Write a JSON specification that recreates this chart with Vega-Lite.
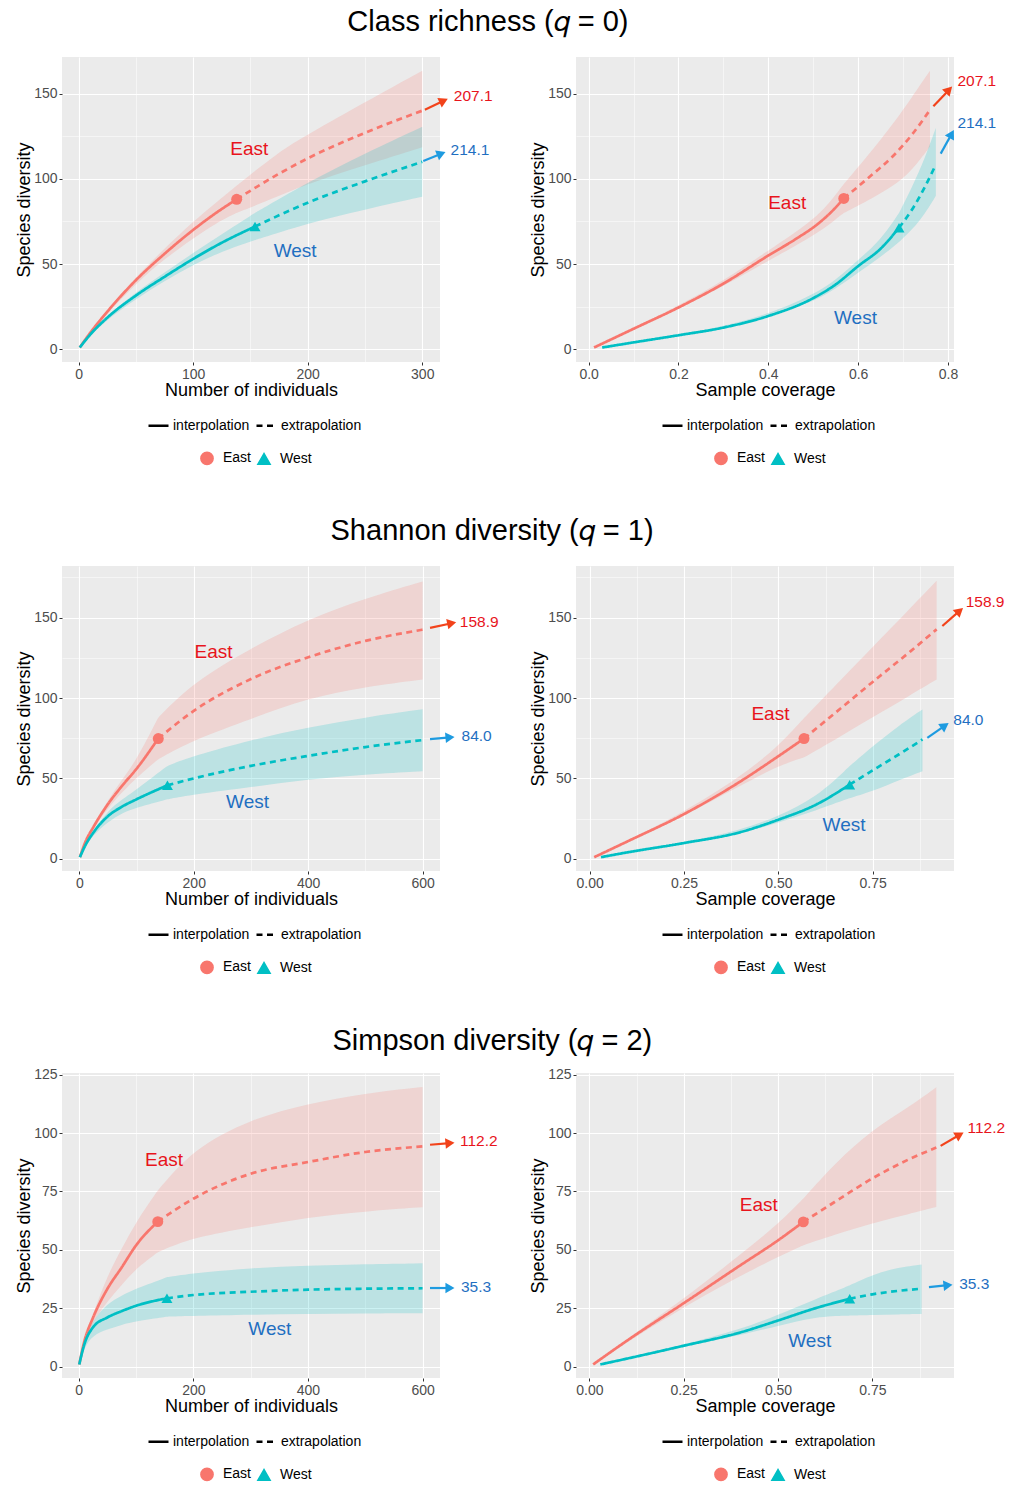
{
"$schema": "https://vega.github.io/schema/vega-lite/v6.json",
"padding": {"left": 15, "top": 8, "right": 3, "bottom": 0},
"spacing": 49,
"resolve": {"scale": {"color": "independent", "shape": "independent", "strokeDash": "independent"}, "legend": {"color": "independent", "shape": "independent", "strokeDash": "independent"}},
"datasets": {
"curves": [
{"panel":"q0s","region":"East","method":"interpolation","x":1,"y":1,"lo":1,"hi":1},
{"panel":"q0s","region":"East","method":"interpolation","x":10,"y":9.5,"lo":9,"hi":10},
{"panel":"q0s","region":"East","method":"interpolation","x":25,"y":22,"lo":21,"hi":23},
{"panel":"q0s","region":"East","method":"interpolation","x":50,"y":40.5,"lo":38.5,"hi":42.5},
{"panel":"q0s","region":"East","method":"interpolation","x":75,"y":56,"lo":53,"hi":59},
{"panel":"q0s","region":"East","method":"interpolation","x":100,"y":70,"lo":65,"hi":75},
{"panel":"q0s","region":"East","method":"interpolation","x":120,"y":80,"lo":74,"hi":86},
{"panel":"q0s","region":"East","method":"interpolation","x":138,"y":88,"lo":80,"hi":96},
{"panel":"q0s","region":"East","method":"extrapolation","x":138,"y":88,"lo":80,"hi":96},
{"panel":"q0s","region":"East","method":"extrapolation","x":175,"y":103,"lo":90,"hi":116},
{"panel":"q0s","region":"East","method":"extrapolation","x":200,"y":112,"lo":97,"hi":126},
{"panel":"q0s","region":"East","method":"extrapolation","x":250,"y":127,"lo":108,"hi":145},
{"panel":"q0s","region":"East","method":"extrapolation","x":300,"y":140,"lo":118.5,"hi":163.5},
{"panel":"q0s","region":"West","method":"interpolation","x":1,"y":1,"lo":1,"hi":1},
{"panel":"q0s","region":"West","method":"interpolation","x":10,"y":8.5,"lo":8,"hi":9},
{"panel":"q0s","region":"West","method":"interpolation","x":25,"y":18.5,"lo":17.5,"hi":19.5},
{"panel":"q0s","region":"West","method":"interpolation","x":50,"y":31.5,"lo":29.5,"hi":33.5},
{"panel":"q0s","region":"West","method":"interpolation","x":75,"y":42.5,"lo":40,"hi":45},
{"panel":"q0s","region":"West","method":"interpolation","x":100,"y":53,"lo":49.5,"hi":56.5},
{"panel":"q0s","region":"West","method":"interpolation","x":125,"y":62.5,"lo":57.5,"hi":67.5},
{"panel":"q0s","region":"West","method":"interpolation","x":154,"y":72,"lo":64,"hi":80},
{"panel":"q0s","region":"West","method":"extrapolation","x":154,"y":72,"lo":64,"hi":80},
{"panel":"q0s","region":"West","method":"extrapolation","x":200,"y":86,"lo":74,"hi":98},
{"panel":"q0s","region":"West","method":"extrapolation","x":250,"y":98.5,"lo":82,"hi":115},
{"panel":"q0s","region":"West","method":"extrapolation","x":300,"y":110,"lo":89.5,"hi":130.5},

{"panel":"q0c","region":"East","method":"interpolation","x":0.012,"y":1,"lo":1,"hi":1},
{"panel":"q0c","region":"East","method":"interpolation","x":0.1,"y":12,"lo":11.5,"hi":12.5},
{"panel":"q0c","region":"East","method":"interpolation","x":0.2,"y":24.5,"lo":23.5,"hi":25.5},
{"panel":"q0c","region":"East","method":"interpolation","x":0.3,"y":38.5,"lo":37,"hi":40},
{"panel":"q0c","region":"East","method":"interpolation","x":0.4,"y":55,"lo":52,"hi":58},
{"panel":"q0c","region":"East","method":"interpolation","x":0.46,"y":64.5,"lo":60.5,"hi":68.5},
{"panel":"q0c","region":"East","method":"interpolation","x":0.51,"y":73.5,"lo":68.5,"hi":78.5},
{"panel":"q0c","region":"East","method":"interpolation","x":0.54,"y":80.5,"lo":74,"hi":87},
{"panel":"q0c","region":"East","method":"interpolation","x":0.568,"y":88.5,"lo":80,"hi":97},
{"panel":"q0c","region":"East","method":"extrapolation","x":0.568,"y":88.5,"lo":80,"hi":97},
{"panel":"q0c","region":"East","method":"extrapolation","x":0.62,"y":100,"lo":87,"hi":113},
{"panel":"q0c","region":"East","method":"extrapolation","x":0.68,"y":114,"lo":96,"hi":133},
{"panel":"q0c","region":"East","method":"extrapolation","x":0.72,"y":126,"lo":105,"hi":148},
{"panel":"q0c","region":"East","method":"extrapolation","x":0.76,"y":140.5,"lo":119,"hi":163.5},
{"panel":"q0c","region":"West","method":"interpolation","x":0.03,"y":1,"lo":1,"hi":1},
{"panel":"q0c","region":"West","method":"interpolation","x":0.1,"y":4,"lo":3.8,"hi":4.2},
{"panel":"q0c","region":"West","method":"interpolation","x":0.2,"y":8.2,"lo":7.8,"hi":8.6},
{"panel":"q0c","region":"West","method":"interpolation","x":0.3,"y":12.7,"lo":12,"hi":13.4},
{"panel":"q0c","region":"West","method":"interpolation","x":0.4,"y":19.5,"lo":18.5,"hi":20.5},
{"panel":"q0c","region":"West","method":"interpolation","x":0.5,"y":30,"lo":28,"hi":32},
{"panel":"q0c","region":"West","method":"interpolation","x":0.55,"y":38,"lo":35.5,"hi":40.5},
{"panel":"q0c","region":"West","method":"interpolation","x":0.6,"y":48.8,"lo":45,"hi":52.5},
{"panel":"q0c","region":"West","method":"interpolation","x":0.65,"y":59,"lo":54,"hi":64},
{"panel":"q0c","region":"West","method":"interpolation","x":0.691,"y":71.3,"lo":63,"hi":80},
{"panel":"q0c","region":"West","method":"extrapolation","x":0.691,"y":71.3,"lo":63,"hi":80},
{"panel":"q0c","region":"West","method":"extrapolation","x":0.72,"y":82,"lo":70,"hi":95},
{"panel":"q0c","region":"West","method":"extrapolation","x":0.75,"y":96,"lo":80,"hi":113},
{"panel":"q0c","region":"West","method":"extrapolation","x":0.773,"y":108.4,"lo":90,"hi":130},

{"panel":"q1s","region":"East","method":"interpolation","x":1,"y":1,"lo":1,"hi":1},
{"panel":"q1s","region":"East","method":"interpolation","x":10,"y":10,"lo":9.5,"hi":10.5},
{"panel":"q1s","region":"East","method":"interpolation","x":25,"y":20,"lo":19,"hi":21.5},
{"panel":"q1s","region":"East","method":"interpolation","x":50,"y":34,"lo":31.5,"hi":36.5},
{"panel":"q1s","region":"East","method":"interpolation","x":75,"y":45.5,"lo":41.5,"hi":49.5},
{"panel":"q1s","region":"East","method":"interpolation","x":100,"y":56,"lo":50.5,"hi":61.5},
{"panel":"q1s","region":"East","method":"interpolation","x":138,"y":74.8,"lo":62,"hi":88},
{"panel":"q1s","region":"East","method":"extrapolation","x":138,"y":74.8,"lo":62,"hi":88},
{"panel":"q1s","region":"East","method":"extrapolation","x":200,"y":92,"lo":74,"hi":110},
{"panel":"q1s","region":"East","method":"extrapolation","x":300,"y":111.8,"lo":87,"hi":131},
{"panel":"q1s","region":"East","method":"extrapolation","x":400,"y":125.3,"lo":100,"hi":149},
{"panel":"q1s","region":"East","method":"extrapolation","x":500,"y":135.5,"lo":107,"hi":162},
{"panel":"q1s","region":"East","method":"extrapolation","x":600,"y":142.5,"lo":111.5,"hi":172.5},
{"panel":"q1s","region":"West","method":"interpolation","x":1,"y":1,"lo":1,"hi":1},
{"panel":"q1s","region":"West","method":"interpolation","x":10,"y":8,"lo":7.5,"hi":8.5},
{"panel":"q1s","region":"West","method":"interpolation","x":25,"y":16.5,"lo":15,"hi":18},
{"panel":"q1s","region":"West","method":"interpolation","x":50,"y":26.5,"lo":23,"hi":30},
{"panel":"q1s","region":"West","method":"interpolation","x":75,"y":32.5,"lo":28.5,"hi":37},
{"panel":"q1s","region":"West","method":"interpolation","x":100,"y":37,"lo":32,"hi":43},
{"panel":"q1s","region":"West","method":"interpolation","x":154,"y":45.7,"lo":37,"hi":57.8},
{"panel":"q1s","region":"West","method":"extrapolation","x":154,"y":45.7,"lo":37,"hi":57.8},
{"panel":"q1s","region":"West","method":"extrapolation","x":200,"y":50,"lo":40,"hi":64},
{"panel":"q1s","region":"West","method":"extrapolation","x":300,"y":57.8,"lo":44.5,"hi":74},
{"panel":"q1s","region":"West","method":"extrapolation","x":400,"y":64,"lo":49.5,"hi":81.7},
{"panel":"q1s","region":"West","method":"extrapolation","x":500,"y":69.5,"lo":52.5,"hi":88},
{"panel":"q1s","region":"West","method":"extrapolation","x":600,"y":73.8,"lo":54.5,"hi":93},

{"panel":"q1c","region":"East","method":"interpolation","x":0.012,"y":1,"lo":1,"hi":1},
{"panel":"q1c","region":"East","method":"interpolation","x":0.1,"y":10.8,"lo":10.3,"hi":11.3},
{"panel":"q1c","region":"East","method":"interpolation","x":0.25,"y":27.8,"lo":26.5,"hi":29},
{"panel":"q1c","region":"East","method":"interpolation","x":0.4,"y":48.2,"lo":45.5,"hi":51},
{"panel":"q1c","region":"East","method":"interpolation","x":0.5,"y":63.8,"lo":58,"hi":70},
{"panel":"q1c","region":"East","method":"interpolation","x":0.568,"y":74.8,"lo":63,"hi":87.5},
{"panel":"q1c","region":"East","method":"extrapolation","x":0.568,"y":74.8,"lo":63,"hi":87.5},
{"panel":"q1c","region":"East","method":"extrapolation","x":0.65,"y":90.6,"lo":74,"hi":107.6},
{"panel":"q1c","region":"East","method":"extrapolation","x":0.75,"y":110,"lo":88,"hi":131.7},
{"panel":"q1c","region":"East","method":"extrapolation","x":0.85,"y":129,"lo":101.8,"hi":156},
{"panel":"q1c","region":"East","method":"extrapolation","x":0.9195,"y":142.7,"lo":111.5,"hi":173},
{"panel":"q1c","region":"West","method":"interpolation","x":0.03,"y":1,"lo":1,"hi":1},
{"panel":"q1c","region":"West","method":"interpolation","x":0.1,"y":4,"lo":3.8,"hi":4.2},
{"panel":"q1c","region":"West","method":"interpolation","x":0.25,"y":9.8,"lo":9.3,"hi":10.3},
{"panel":"q1c","region":"West","method":"interpolation","x":0.4,"y":16.6,"lo":15.5,"hi":17.7},
{"panel":"q1c","region":"West","method":"interpolation","x":0.5,"y":24.3,"lo":22.5,"hi":26.5},
{"panel":"q1c","region":"West","method":"interpolation","x":0.6,"y":33.7,"lo":30,"hi":38},
{"panel":"q1c","region":"West","method":"interpolation","x":0.689,"y":46.1,"lo":37.8,"hi":57.6},
{"panel":"q1c","region":"West","method":"extrapolation","x":0.689,"y":46.1,"lo":37.8,"hi":57.6},
{"panel":"q1c","region":"West","method":"extrapolation","x":0.75,"y":55,"lo":42,"hi":70},
{"panel":"q1c","region":"West","method":"extrapolation","x":0.82,"y":65,"lo":49,"hi":83},
{"panel":"q1c","region":"West","method":"extrapolation","x":0.882,"y":74.2,"lo":54.4,"hi":92.9},

{"panel":"q2s","region":"East","method":"interpolation","x":1,"y":1,"lo":1,"hi":1},
{"panel":"q2s","region":"East","method":"interpolation","x":10,"y":11,"lo":10.5,"hi":11.5},
{"panel":"q2s","region":"East","method":"interpolation","x":25,"y":21,"lo":19.5,"hi":22.5},
{"panel":"q2s","region":"East","method":"interpolation","x":50,"y":33.3,"lo":28,"hi":39},
{"panel":"q2s","region":"East","method":"interpolation","x":75,"y":42.5,"lo":35,"hi":50.5},
{"panel":"q2s","region":"East","method":"interpolation","x":100,"y":51.9,"lo":42,"hi":62},
{"panel":"q2s","region":"East","method":"interpolation","x":138,"y":62.1,"lo":49,"hi":75.4},
{"panel":"q2s","region":"East","method":"extrapolation","x":138,"y":62.1,"lo":49,"hi":75.4},
{"panel":"q2s","region":"East","method":"extrapolation","x":200,"y":71.9,"lo":55.4,"hi":93.3},
{"panel":"q2s","region":"East","method":"extrapolation","x":300,"y":82.6,"lo":59.7,"hi":106},
{"panel":"q2s","region":"East","method":"extrapolation","x":400,"y":87.6,"lo":64,"hi":112.6},
{"panel":"q2s","region":"East","method":"extrapolation","x":500,"y":91.9,"lo":66.5,"hi":117},
{"panel":"q2s","region":"East","method":"extrapolation","x":600,"y":94.3,"lo":68.3,"hi":119.7},
{"panel":"q2s","region":"West","method":"interpolation","x":1,"y":1,"lo":1,"hi":1},
{"panel":"q2s","region":"West","method":"interpolation","x":10,"y":9.7,"lo":8.5,"hi":11},
{"panel":"q2s","region":"West","method":"interpolation","x":25,"y":16.9,"lo":13.5,"hi":20},
{"panel":"q2s","region":"West","method":"interpolation","x":50,"y":21.1,"lo":16,"hi":27},
{"panel":"q2s","region":"West","method":"interpolation","x":75,"y":23.8,"lo":18,"hi":30.5},
{"panel":"q2s","region":"West","method":"interpolation","x":100,"y":26.1,"lo":19.5,"hi":33.5},
{"panel":"q2s","region":"West","method":"interpolation","x":154,"y":29.3,"lo":21.4,"hi":38.3},
{"panel":"q2s","region":"West","method":"extrapolation","x":154,"y":29.3,"lo":21.4,"hi":38.3},
{"panel":"q2s","region":"West","method":"extrapolation","x":200,"y":30.7,"lo":21.8,"hi":40},
{"panel":"q2s","region":"West","method":"extrapolation","x":300,"y":32.1,"lo":22.3,"hi":42.3},
{"panel":"q2s","region":"West","method":"extrapolation","x":400,"y":33,"lo":22.6,"hi":43.3},
{"panel":"q2s","region":"West","method":"extrapolation","x":500,"y":33.4,"lo":22.8,"hi":43.9},
{"panel":"q2s","region":"West","method":"extrapolation","x":600,"y":33.6,"lo":22.9,"hi":44.3},

{"panel":"q2c","region":"East","method":"interpolation","x":0.01,"y":1,"lo":1,"hi":1},
{"panel":"q2c","region":"East","method":"interpolation","x":0.1,"y":11.2,"lo":10.5,"hi":12},
{"panel":"q2c","region":"East","method":"interpolation","x":0.25,"y":27.2,"lo":25.5,"hi":29},
{"panel":"q2c","region":"East","method":"interpolation","x":0.4,"y":43.4,"lo":39,"hi":48},
{"panel":"q2c","region":"East","method":"interpolation","x":0.5,"y":54.1,"lo":47,"hi":61},
{"panel":"q2c","region":"East","method":"interpolation","x":0.567,"y":62,"lo":52,"hi":72},
{"panel":"q2c","region":"East","method":"extrapolation","x":0.567,"y":62,"lo":52,"hi":72},
{"panel":"q2c","region":"East","method":"extrapolation","x":0.65,"y":70.5,"lo":56.5,"hi":87},
{"panel":"q2c","region":"East","method":"extrapolation","x":0.75,"y":80.6,"lo":61.5,"hi":101.5},
{"panel":"q2c","region":"East","method":"extrapolation","x":0.85,"y":89,"lo":65.5,"hi":111.5},
{"panel":"q2c","region":"East","method":"extrapolation","x":0.9195,"y":93.8,"lo":68.4,"hi":119.6},
{"panel":"q2c","region":"West","method":"interpolation","x":0.029,"y":1,"lo":1,"hi":1},
{"panel":"q2c","region":"West","method":"interpolation","x":0.1,"y":3.5,"lo":3.3,"hi":3.7},
{"panel":"q2c","region":"West","method":"interpolation","x":0.25,"y":9,"lo":8.5,"hi":9.5},
{"panel":"q2c","region":"West","method":"interpolation","x":0.4,"y":14.7,"lo":13.5,"hi":16},
{"panel":"q2c","region":"West","method":"interpolation","x":0.5,"y":19.8,"lo":17.5,"hi":22.2},
{"panel":"q2c","region":"West","method":"interpolation","x":0.6,"y":25.1,"lo":21.5,"hi":29},
{"panel":"q2c","region":"West","method":"interpolation","x":0.69,"y":29.1,"lo":21.9,"hi":34.8},
{"panel":"q2c","region":"West","method":"extrapolation","x":0.69,"y":29.1,"lo":21.9,"hi":34.8},
{"panel":"q2c","region":"West","method":"extrapolation","x":0.75,"y":31,"lo":22.2,"hi":39.5},
{"panel":"q2c","region":"West","method":"extrapolation","x":0.82,"y":32.5,"lo":22.4,"hi":42.5},
{"panel":"q2c","region":"West","method":"extrapolation","x":0.8806,"y":33.4,"lo":22.6,"hi":43.8}
],
"obs": [
{"panel":"q0s","region":"East","x":138,"y":88},
{"panel":"q0s","region":"West","x":154,"y":72},
{"panel":"q0c","region":"East","x":0.568,"y":88.5},
{"panel":"q0c","region":"West","x":0.691,"y":71.3},
{"panel":"q1s","region":"East","x":138,"y":74.8},
{"panel":"q1s","region":"West","x":154,"y":45.7},
{"panel":"q1c","region":"East","x":0.568,"y":74.8},
{"panel":"q1c","region":"West","x":0.689,"y":46.1},
{"panel":"q2s","region":"East","x":138,"y":62.1},
{"panel":"q2s","region":"West","x":154,"y":29.3},
{"panel":"q2c","region":"East","x":0.567,"y":62},
{"panel":"q2c","region":"West","x":0.69,"y":29.1}
],
"arrows": [
{"panel":"q0s","region":"East","x":302.3,"y":140.6,"x2":318.7,"y2":145.8,"label":"207.1","lx":327.6,"ly":148.4},
{"panel":"q0s","region":"West","x":300.9,"y":110.5,"x2":316.6,"y2":114.7,"label":"214.1","lx":324.7,"ly":116.8},
{"panel":"q0c","region":"East","x":0.7675,"y":142.6,"x2":0.8022,"y2":152.2,"label":"207.1","lx":0.821,"ly":157.2},
{"panel":"q0c","region":"West","x":0.7838,"y":114.8,"x2":0.8081,"y2":126.3,"label":"214.1","lx":0.821,"ly":132.8},
{"panel":"q1s","region":"East","x":613,"y":143.6,"x2":650.9,"y2":146.5,"label":"158.9","lx":665,"ly":147.5},
{"panel":"q1s","region":"West","x":613,"y":74.4,"x2":647.9,"y2":75.5,"label":"84.0","lx":668,"ly":76.5},
{"panel":"q1c","region":"East","x":0.9346,"y":144.8,"x2":0.9803,"y2":154.2,"label":"158.9","lx":0.9965,"ly":159.8},
{"panel":"q1c","region":"West","x":0.8948,"y":75.2,"x2":0.9414,"y2":82.8,"label":"84.0","lx":0.9637,"ly":86.2},
{"panel":"q2s","region":"East","x":613,"y":95,"x2":647.8,"y2":95.7,"label":"112.2","lx":665.3,"ly":96.6},
{"panel":"q2s","region":"West","x":613,"y":33.7,"x2":647.8,"y2":33.7,"label":"35.3","lx":667,"ly":34},
{"panel":"q2c","region":"East","x":0.931,"y":94.5,"x2":0.9814,"y2":99.3,"label":"112.2","lx":1.002,"ly":102},
{"panel":"q2c","region":"West","x":0.9,"y":34.1,"x2":0.9505,"y2":34.9,"label":"35.3","lx":0.98,"ly":35.4}
],
"labels": [
{"panel":"q0s","region":"East","x":149,"y":117.7},
{"panel":"q0s","region":"West","x":189,"y":57.5},
{"panel":"q0c","region":"East","x":0.442,"y":86},
{"panel":"q0c","region":"West","x":0.594,"y":18.6},
{"panel":"q1s","region":"East","x":234.6,"y":128.8},
{"panel":"q1s","region":"West","x":294,"y":35.3},
{"panel":"q1c","region":"East","x":0.479,"y":89.8},
{"panel":"q1c","region":"West","x":0.674,"y":21.2},
{"panel":"q2s","region":"East","x":149,"y":88.6},
{"panel":"q2s","region":"West","x":333.5,"y":16.1},
{"panel":"q2c","region":"East","x":0.449,"y":69.2},
{"panel":"q2c","region":"West","x":0.584,"y":11.2}
]
},
"vconcat": [
{
"bounds": "flush", "spacing": 136,
"title": {"text": "Class richness (𝑞 = 0)", "fontSize": 29, "fontWeight": "normal", "anchor": "middle", "offset": 20, "dx": -18, "color": "#000000"},
"resolve": {"scale": {"color": "independent", "shape": "independent", "strokeDash": "independent"}, "legend": {"color": "independent", "shape": "independent", "strokeDash": "independent"}},
"hconcat": [
{
"width": 378, "height": 305,
"layer": [
{"data": {"name": "curves"}, "transform": [{"filter": "datum.panel === 'q0s'"}],
 "mark": {"type": "area", "opacity": 0.2, "interpolate": "basis"},
 "encoding": {
  "x": {"field": "x", "type": "quantitative", "scale": {"domain": [-14.5, 315.5], "nice": false, "zero": false},
   "axis": {"title": "Number of individuals", "titlePadding": 0, "values": [0,50,100,150,200,250,300], "format": "d",
    "labelExpr": "datum.value % 100 === 0 ? datum.label : ''",
    "gridWidth": {"condition": {"test": "datum.value % 100 === 0", "value": 1.1}, "value": 0.5},
    "tickOpacity": {"condition": {"test": "datum.value % 100 === 0", "value": 1}, "value": 0}}},
  "y": {"field": "lo", "type": "quantitative", "scale": {"domain": [-7.5, 171.5], "nice": false, "zero": false},
   "axis": {"title": "Species diversity", "titlePadding": 0, "values": [0,25,50,75,100,125,150], "format": "d",
    "labelExpr": "datum.value % 50 === 0 ? datum.label : ''",
    "gridWidth": {"condition": {"test": "datum.value % 50 === 0", "value": 1.1}, "value": 0.5},
    "tickOpacity": {"condition": {"test": "datum.value % 50 === 0", "value": 1}, "value": 0}}},
  "y2": {"field": "hi"},
  "color": {"field": "region", "type": "nominal", "scale": {"domain": ["East","West"], "range": ["#F8766D","#00BFC4"]}, "legend": {"orient": "none", "legendX": 138, "legendY": 394, "direction": "horizontal", "title": null, "symbolSize": 150, "symbolOpacity": 1, "labelOffset": 9, "columnPadding": 2, "labelFontSize": 14}}
 }},
{"data": {"name": "curves"}, "transform": [{"filter": "datum.panel === 'q0s'"}],
 "mark": {"type": "line", "strokeWidth": 2.7, "interpolate": "monotone"},
 "encoding": {
  "x": {"field": "x", "type": "quantitative"},
  "y": {"field": "y", "type": "quantitative"},
  "color": {"field": "region", "type": "nominal", "legend": {"orient": "none", "legendX": 138, "legendY": 394, "direction": "horizontal", "title": null, "symbolSize": 150, "symbolOpacity": 1, "labelOffset": 9, "columnPadding": 2, "labelFontSize": 14}},
  "strokeDash": {"field": "method", "type": "nominal", "scale": {"domain": ["interpolation","extrapolation"], "range": [[1,0],[6,4.5]]},
   "legend": {"orient": "none", "legendX": 85, "legendY": 357, "direction": "horizontal", "title": null, "symbolType": "stroke", "symbolStrokeColor": "#000000", "symbolStrokeWidth": 2.5, "symbolSize": 400, "labelOffset": 3, "columnPadding": 1, "labelFontSize": 14}}
 }},
{"data": {"name": "obs"}, "transform": [{"filter": "datum.panel === 'q0s'"}],
 "mark": {"type": "point", "filled": true, "size": 120, "opacity": 1},
 "encoding": {
  "x": {"field": "x", "type": "quantitative"},
  "y": {"field": "y", "type": "quantitative"},
  "color": {"field": "region", "type": "nominal", "legend": {"orient": "none", "legendX": 138, "legendY": 394, "direction": "horizontal", "title": null, "symbolSize": 150, "symbolOpacity": 1, "labelOffset": 9, "columnPadding": 2, "labelFontSize": 14}},
  "shape": {"field": "region", "type": "nominal", "scale": {"domain": ["East","West"], "range": ["circle","triangle-up"]}, "legend": {"orient": "none", "legendX": 138, "legendY": 394, "direction": "horizontal", "title": null, "symbolSize": 150, "symbolOpacity": 1, "labelOffset": 9, "columnPadding": 2, "labelFontSize": 14}}
 }},
{"data": {"name": "arrows"}, "transform": [{"filter": "datum.panel === 'q0s'"}],
 "mark": {"type": "rule", "strokeWidth": 2.2},
 "encoding": {
  "x": {"field": "x", "type": "quantitative"}, "y": {"field": "y", "type": "quantitative"},
  "x2": {"field": "x2"}, "y2": {"field": "y2"},
  "color": {"condition": {"test": "datum.region === 'East'", "value": "#F2431B"}, "value": "#1E9BE0"}
 }},
{"data": {"name": "arrows"}, "transform": [{"filter": "datum.panel === 'q0s'"}],
 "mark": {"type": "point", "shape": "triangle-right", "filled": true, "size": 110, "opacity": 1},
 "encoding": {
  "x": {"field": "x2", "type": "quantitative"}, "y": {"field": "y2", "type": "quantitative"},
  "angle": {"condition": {"test": "datum.region === 'East'", "value": 335}, "value": 338},
  "color": {"condition": {"test": "datum.region === 'East'", "value": "#F2431B"}, "value": "#1E9BE0"}
 }},
{"data": {"name": "arrows"}, "transform": [{"filter": "datum.panel === 'q0s'"}],
 "mark": {"type": "text", "align": "left", "baseline": "middle", "fontSize": 15.5},
 "encoding": {
  "x": {"field": "lx", "type": "quantitative"}, "y": {"field": "ly", "type": "quantitative"},
  "text": {"field": "label"},
  "color": {"condition": {"test": "datum.region === 'East'", "value": "#E8141C"}, "value": "#1F6FC1"}
 }},
{"data": {"name": "labels"}, "transform": [{"filter": "datum.panel === 'q0s'"}],
 "mark": {"type": "text", "align": "center", "baseline": "middle", "fontSize": 19},
 "encoding": {
  "x": {"field": "x", "type": "quantitative"}, "y": {"field": "y", "type": "quantitative"},
  "text": {"field": "region"},
  "color": {"condition": {"test": "datum.region === 'East'", "value": "#E8141C"}, "value": "#1F6FC1"}
 }}
]
},
{
"width": 378, "height": 305,
"layer": [
{"data": {"name": "curves"}, "transform": [{"filter": "datum.panel === 'q0c'"}],
 "mark": {"type": "area", "opacity": 0.2, "interpolate": "basis"},
 "encoding": {
  "x": {"field": "x", "type": "quantitative", "scale": {"domain": [-0.0282, 0.8134], "nice": false, "zero": false},
   "axis": {"title": "Sample coverage", "titlePadding": 0, "values": [0,0.1,0.2,0.3,0.4,0.5,0.6,0.7,0.8], "format": ".1f",
    "labelExpr": "((datum.value * 10) % 2 < 0.01 || (datum.value * 10) % 2 > 1.99) ? datum.label : ''",
    "gridWidth": {"condition": {"test": "(datum.value * 10) % 2 < 0.01 || (datum.value * 10) % 2 > 1.99", "value": 1.1}, "value": 0.5},
    "tickOpacity": {"condition": {"test": "(datum.value * 10) % 2 < 0.01 || (datum.value * 10) % 2 > 1.99", "value": 1}, "value": 0}}},
  "y": {"field": "lo", "type": "quantitative", "scale": {"domain": [-7.5, 171.5], "nice": false, "zero": false},
   "axis": {"title": "Species diversity", "titlePadding": 0, "values": [0,25,50,75,100,125,150], "format": "d",
    "labelExpr": "datum.value % 50 === 0 ? datum.label : ''",
    "gridWidth": {"condition": {"test": "datum.value % 50 === 0", "value": 1.1}, "value": 0.5},
    "tickOpacity": {"condition": {"test": "datum.value % 50 === 0", "value": 1}, "value": 0}}},
  "y2": {"field": "hi"},
  "color": {"field": "region", "type": "nominal", "scale": {"domain": ["East","West"], "range": ["#F8766D","#00BFC4"]}, "legend": {"orient": "none", "legendX": 138, "legendY": 394, "direction": "horizontal", "title": null, "symbolSize": 150, "symbolOpacity": 1, "labelOffset": 9, "columnPadding": 2, "labelFontSize": 14}}
 }},
{"data": {"name": "curves"}, "transform": [{"filter": "datum.panel === 'q0c'"}],
 "mark": {"type": "line", "strokeWidth": 2.7, "interpolate": "monotone"},
 "encoding": {
  "x": {"field": "x", "type": "quantitative"},
  "y": {"field": "y", "type": "quantitative"},
  "color": {"field": "region", "type": "nominal", "legend": {"orient": "none", "legendX": 138, "legendY": 394, "direction": "horizontal", "title": null, "symbolSize": 150, "symbolOpacity": 1, "labelOffset": 9, "columnPadding": 2, "labelFontSize": 14}},
  "strokeDash": {"field": "method", "type": "nominal", "scale": {"domain": ["interpolation","extrapolation"], "range": [[1,0],[6,4.5]]},
   "legend": {"orient": "none", "legendX": 85, "legendY": 357, "direction": "horizontal", "title": null, "symbolType": "stroke", "symbolStrokeColor": "#000000", "symbolStrokeWidth": 2.5, "symbolSize": 400, "labelOffset": 3, "columnPadding": 1, "labelFontSize": 14}}
 }},
{"data": {"name": "obs"}, "transform": [{"filter": "datum.panel === 'q0c'"}],
 "mark": {"type": "point", "filled": true, "size": 120, "opacity": 1},
 "encoding": {
  "x": {"field": "x", "type": "quantitative"},
  "y": {"field": "y", "type": "quantitative"},
  "color": {"field": "region", "type": "nominal", "legend": {"orient": "none", "legendX": 138, "legendY": 394, "direction": "horizontal", "title": null, "symbolSize": 150, "symbolOpacity": 1, "labelOffset": 9, "columnPadding": 2, "labelFontSize": 14}},
  "shape": {"field": "region", "type": "nominal", "scale": {"domain": ["East","West"], "range": ["circle","triangle-up"]}, "legend": {"orient": "none", "legendX": 138, "legendY": 394, "direction": "horizontal", "title": null, "symbolSize": 150, "symbolOpacity": 1, "labelOffset": 9, "columnPadding": 2, "labelFontSize": 14}}
 }},
{"data": {"name": "arrows"}, "transform": [{"filter": "datum.panel === 'q0c'"}],
 "mark": {"type": "rule", "strokeWidth": 2.2},
 "encoding": {
  "x": {"field": "x", "type": "quantitative"}, "y": {"field": "y", "type": "quantitative"},
  "x2": {"field": "x2"}, "y2": {"field": "y2"},
  "color": {"condition": {"test": "datum.region === 'East'", "value": "#F2431B"}, "value": "#1E9BE0"}
 }},
{"data": {"name": "arrows"}, "transform": [{"filter": "datum.panel === 'q0c'"}],
 "mark": {"type": "point", "shape": "triangle-right", "filled": true, "size": 110, "opacity": 1},
 "encoding": {
  "x": {"field": "x2", "type": "quantitative"}, "y": {"field": "y2", "type": "quantitative"},
  "angle": {"condition": {"test": "datum.region === 'East'", "value": 314}, "value": 299},
  "color": {"condition": {"test": "datum.region === 'East'", "value": "#F2431B"}, "value": "#1E9BE0"}
 }},
{"data": {"name": "arrows"}, "transform": [{"filter": "datum.panel === 'q0c'"}],
 "mark": {"type": "text", "align": "left", "baseline": "middle", "fontSize": 15.5},
 "encoding": {
  "x": {"field": "lx", "type": "quantitative"}, "y": {"field": "ly", "type": "quantitative"},
  "text": {"field": "label"},
  "color": {"condition": {"test": "datum.region === 'East'", "value": "#E8141C"}, "value": "#1F6FC1"}
 }},
{"data": {"name": "labels"}, "transform": [{"filter": "datum.panel === 'q0c'"}],
 "mark": {"type": "text", "align": "center", "baseline": "middle", "fontSize": 19},
 "encoding": {
  "x": {"field": "x", "type": "quantitative"}, "y": {"field": "y", "type": "quantitative"},
  "text": {"field": "region"},
  "color": {"condition": {"test": "datum.region === 'East'", "value": "#E8141C"}, "value": "#1F6FC1"}
 }}
]
}
]
},
{
"bounds": "flush", "spacing": 136,
"title": {"text": "Shannon diversity (𝑞 = 1)", "fontSize": 29, "fontWeight": "normal", "anchor": "middle", "offset": 20, "dx": -18, "color": "#000000"},
"resolve": {"scale": {"color": "independent", "shape": "independent", "strokeDash": "independent"}, "legend": {"color": "independent", "shape": "independent", "strokeDash": "independent"}},
"hconcat": [
{
"width": 378, "height": 305,
"layer": [
{"data": {"name": "curves"}, "transform": [{"filter": "datum.panel === 'q1s'"}],
 "mark": {"type": "area", "opacity": 0.2, "interpolate": "basis"},
 "encoding": {
  "x": {"field": "x", "type": "quantitative", "scale": {"domain": [-30.3, 630.4], "nice": false, "zero": false},
   "axis": {"title": "Number of individuals", "titlePadding": 0, "values": [0,100,200,300,400,500,600], "format": "d",
    "labelExpr": "datum.value % 200 === 0 ? datum.label : ''",
    "gridWidth": {"condition": {"test": "datum.value % 200 === 0", "value": 1.1}, "value": 0.5},
    "tickOpacity": {"condition": {"test": "datum.value % 200 === 0", "value": 1}, "value": 0}}},
  "y": {"field": "lo", "type": "quantitative", "scale": {"domain": [-7.6, 182.1], "nice": false, "zero": false},
   "axis": {"title": "Species diversity", "titlePadding": 0, "values": [0,25,50,75,100,125,150,175], "format": "d",
    "labelExpr": "datum.value % 50 === 0 ? datum.label : ''",
    "gridWidth": {"condition": {"test": "datum.value % 50 === 0", "value": 1.1}, "value": 0.5},
    "tickOpacity": {"condition": {"test": "datum.value % 50 === 0", "value": 1}, "value": 0}}},
  "y2": {"field": "hi"},
  "color": {"field": "region", "type": "nominal", "scale": {"domain": ["East","West"], "range": ["#F8766D","#00BFC4"]}, "legend": {"orient": "none", "legendX": 138, "legendY": 394, "direction": "horizontal", "title": null, "symbolSize": 150, "symbolOpacity": 1, "labelOffset": 9, "columnPadding": 2, "labelFontSize": 14}}
 }},
{"data": {"name": "curves"}, "transform": [{"filter": "datum.panel === 'q1s'"}],
 "mark": {"type": "line", "strokeWidth": 2.7, "interpolate": "monotone"},
 "encoding": {
  "x": {"field": "x", "type": "quantitative"},
  "y": {"field": "y", "type": "quantitative"},
  "color": {"field": "region", "type": "nominal", "legend": {"orient": "none", "legendX": 138, "legendY": 394, "direction": "horizontal", "title": null, "symbolSize": 150, "symbolOpacity": 1, "labelOffset": 9, "columnPadding": 2, "labelFontSize": 14}},
  "strokeDash": {"field": "method", "type": "nominal", "scale": {"domain": ["interpolation","extrapolation"], "range": [[1,0],[6,4.5]]},
   "legend": {"orient": "none", "legendX": 85, "legendY": 357, "direction": "horizontal", "title": null, "symbolType": "stroke", "symbolStrokeColor": "#000000", "symbolStrokeWidth": 2.5, "symbolSize": 400, "labelOffset": 3, "columnPadding": 1, "labelFontSize": 14}}
 }},
{"data": {"name": "obs"}, "transform": [{"filter": "datum.panel === 'q1s'"}],
 "mark": {"type": "point", "filled": true, "size": 120, "opacity": 1},
 "encoding": {
  "x": {"field": "x", "type": "quantitative"},
  "y": {"field": "y", "type": "quantitative"},
  "color": {"field": "region", "type": "nominal", "legend": {"orient": "none", "legendX": 138, "legendY": 394, "direction": "horizontal", "title": null, "symbolSize": 150, "symbolOpacity": 1, "labelOffset": 9, "columnPadding": 2, "labelFontSize": 14}},
  "shape": {"field": "region", "type": "nominal", "scale": {"domain": ["East","West"], "range": ["circle","triangle-up"]}, "legend": {"orient": "none", "legendX": 138, "legendY": 394, "direction": "horizontal", "title": null, "symbolSize": 150, "symbolOpacity": 1, "labelOffset": 9, "columnPadding": 2, "labelFontSize": 14}}
 }},
{"data": {"name": "arrows"}, "transform": [{"filter": "datum.panel === 'q1s'"}],
 "mark": {"type": "rule", "strokeWidth": 2.2},
 "encoding": {
  "x": {"field": "x", "type": "quantitative"}, "y": {"field": "y", "type": "quantitative"},
  "x2": {"field": "x2"}, "y2": {"field": "y2"},
  "color": {"condition": {"test": "datum.region === 'East'", "value": "#F2431B"}, "value": "#1E9BE0"}
 }},
{"data": {"name": "arrows"}, "transform": [{"filter": "datum.panel === 'q1s'"}],
 "mark": {"type": "point", "shape": "triangle-right", "filled": true, "size": 110, "opacity": 1},
 "encoding": {
  "x": {"field": "x2", "type": "quantitative"}, "y": {"field": "y2", "type": "quantitative"},
  "angle": {"condition": {"test": "datum.region === 'East'", "value": 348}, "value": 355},
  "color": {"condition": {"test": "datum.region === 'East'", "value": "#F2431B"}, "value": "#1E9BE0"}
 }},
{"data": {"name": "arrows"}, "transform": [{"filter": "datum.panel === 'q1s'"}],
 "mark": {"type": "text", "align": "left", "baseline": "middle", "fontSize": 15.5},
 "encoding": {
  "x": {"field": "lx", "type": "quantitative"}, "y": {"field": "ly", "type": "quantitative"},
  "text": {"field": "label"},
  "color": {"condition": {"test": "datum.region === 'East'", "value": "#E8141C"}, "value": "#1F6FC1"}
 }},
{"data": {"name": "labels"}, "transform": [{"filter": "datum.panel === 'q1s'"}],
 "mark": {"type": "text", "align": "center", "baseline": "middle", "fontSize": 19},
 "encoding": {
  "x": {"field": "x", "type": "quantitative"}, "y": {"field": "y", "type": "quantitative"},
  "text": {"field": "region"},
  "color": {"condition": {"test": "datum.region === 'East'", "value": "#E8141C"}, "value": "#1F6FC1"}
 }}
]
},
{
"width": 378, "height": 305,
"layer": [
{"data": {"name": "curves"}, "transform": [{"filter": "datum.panel === 'q1c'"}],
 "mark": {"type": "area", "opacity": 0.2, "interpolate": "basis"},
 "encoding": {
  "x": {"field": "x", "type": "quantitative", "scale": {"domain": [-0.0363, 0.9655], "nice": false, "zero": false},
   "axis": {"title": "Sample coverage", "titlePadding": 0, "values": [0,0.125,0.25,0.375,0.5,0.625,0.75,0.875], "format": ".2f",
    "labelExpr": "(datum.value * 8) % 2 === 0 ? datum.label : ''",
    "gridWidth": {"condition": {"test": "(datum.value * 8) % 2 === 0", "value": 1.1}, "value": 0.5},
    "tickOpacity": {"condition": {"test": "(datum.value * 8) % 2 === 0", "value": 1}, "value": 0}}},
  "y": {"field": "lo", "type": "quantitative", "scale": {"domain": [-7.6, 182.1], "nice": false, "zero": false},
   "axis": {"title": "Species diversity", "titlePadding": 0, "values": [0,25,50,75,100,125,150,175], "format": "d",
    "labelExpr": "datum.value % 50 === 0 ? datum.label : ''",
    "gridWidth": {"condition": {"test": "datum.value % 50 === 0", "value": 1.1}, "value": 0.5},
    "tickOpacity": {"condition": {"test": "datum.value % 50 === 0", "value": 1}, "value": 0}}},
  "y2": {"field": "hi"},
  "color": {"field": "region", "type": "nominal", "scale": {"domain": ["East","West"], "range": ["#F8766D","#00BFC4"]}, "legend": {"orient": "none", "legendX": 138, "legendY": 394, "direction": "horizontal", "title": null, "symbolSize": 150, "symbolOpacity": 1, "labelOffset": 9, "columnPadding": 2, "labelFontSize": 14}}
 }},
{"data": {"name": "curves"}, "transform": [{"filter": "datum.panel === 'q1c'"}],
 "mark": {"type": "line", "strokeWidth": 2.7, "interpolate": "monotone"},
 "encoding": {
  "x": {"field": "x", "type": "quantitative"},
  "y": {"field": "y", "type": "quantitative"},
  "color": {"field": "region", "type": "nominal", "legend": {"orient": "none", "legendX": 138, "legendY": 394, "direction": "horizontal", "title": null, "symbolSize": 150, "symbolOpacity": 1, "labelOffset": 9, "columnPadding": 2, "labelFontSize": 14}},
  "strokeDash": {"field": "method", "type": "nominal", "scale": {"domain": ["interpolation","extrapolation"], "range": [[1,0],[6,4.5]]},
   "legend": {"orient": "none", "legendX": 85, "legendY": 357, "direction": "horizontal", "title": null, "symbolType": "stroke", "symbolStrokeColor": "#000000", "symbolStrokeWidth": 2.5, "symbolSize": 400, "labelOffset": 3, "columnPadding": 1, "labelFontSize": 14}}
 }},
{"data": {"name": "obs"}, "transform": [{"filter": "datum.panel === 'q1c'"}],
 "mark": {"type": "point", "filled": true, "size": 120, "opacity": 1},
 "encoding": {
  "x": {"field": "x", "type": "quantitative"},
  "y": {"field": "y", "type": "quantitative"},
  "color": {"field": "region", "type": "nominal", "legend": {"orient": "none", "legendX": 138, "legendY": 394, "direction": "horizontal", "title": null, "symbolSize": 150, "symbolOpacity": 1, "labelOffset": 9, "columnPadding": 2, "labelFontSize": 14}},
  "shape": {"field": "region", "type": "nominal", "scale": {"domain": ["East","West"], "range": ["circle","triangle-up"]}, "legend": {"orient": "none", "legendX": 138, "legendY": 394, "direction": "horizontal", "title": null, "symbolSize": 150, "symbolOpacity": 1, "labelOffset": 9, "columnPadding": 2, "labelFontSize": 14}}
 }},
{"data": {"name": "arrows"}, "transform": [{"filter": "datum.panel === 'q1c'"}],
 "mark": {"type": "rule", "strokeWidth": 2.2},
 "encoding": {
  "x": {"field": "x", "type": "quantitative"}, "y": {"field": "y", "type": "quantitative"},
  "x2": {"field": "x2"}, "y2": {"field": "y2"},
  "color": {"condition": {"test": "datum.region === 'East'", "value": "#F2431B"}, "value": "#1E9BE0"}
 }},
{"data": {"name": "arrows"}, "transform": [{"filter": "datum.panel === 'q1c'"}],
 "mark": {"type": "point", "shape": "triangle-right", "filled": true, "size": 110, "opacity": 1},
 "encoding": {
  "x": {"field": "x2", "type": "quantitative"}, "y": {"field": "y2", "type": "quantitative"},
  "angle": {"condition": {"test": "datum.region === 'East'", "value": 319}, "value": 325},
  "color": {"condition": {"test": "datum.region === 'East'", "value": "#F2431B"}, "value": "#1E9BE0"}
 }},
{"data": {"name": "arrows"}, "transform": [{"filter": "datum.panel === 'q1c'"}],
 "mark": {"type": "text", "align": "left", "baseline": "middle", "fontSize": 15.5},
 "encoding": {
  "x": {"field": "lx", "type": "quantitative"}, "y": {"field": "ly", "type": "quantitative"},
  "text": {"field": "label"},
  "color": {"condition": {"test": "datum.region === 'East'", "value": "#E8141C"}, "value": "#1F6FC1"}
 }},
{"data": {"name": "labels"}, "transform": [{"filter": "datum.panel === 'q1c'"}],
 "mark": {"type": "text", "align": "center", "baseline": "middle", "fontSize": 19},
 "encoding": {
  "x": {"field": "x", "type": "quantitative"}, "y": {"field": "y", "type": "quantitative"},
  "text": {"field": "region"},
  "color": {"condition": {"test": "datum.region === 'East'", "value": "#E8141C"}, "value": "#1F6FC1"}
 }}
]
}
]
},
{
"bounds": "flush", "spacing": 136,
"title": {"text": "Simpson diversity (𝑞 = 2)", "fontSize": 29, "fontWeight": "normal", "anchor": "middle", "offset": 12, "dx": -18, "color": "#000000"},
"resolve": {"scale": {"color": "independent", "shape": "independent", "strokeDash": "independent"}, "legend": {"color": "independent", "shape": "independent", "strokeDash": "independent"}},
"hconcat": [
{
"width": 378, "height": 305,
"layer": [
{"data": {"name": "curves"}, "transform": [{"filter": "datum.panel === 'q2s'"}],
 "mark": {"type": "area", "opacity": 0.2, "interpolate": "basis"},
 "encoding": {
  "x": {"field": "x", "type": "quantitative", "scale": {"domain": [-29.1, 630.4], "nice": false, "zero": false},
   "axis": {"title": "Number of individuals", "titlePadding": 0, "values": [0,100,200,300,400,500,600], "format": "d",
    "labelExpr": "datum.value % 200 === 0 ? datum.label : ''",
    "gridWidth": {"condition": {"test": "datum.value % 200 === 0", "value": 1.1}, "value": 0.5},
    "tickOpacity": {"condition": {"test": "datum.value % 200 === 0", "value": 1}, "value": 0}}},
  "y": {"field": "lo", "type": "quantitative", "scale": {"domain": [-4.8, 125.7], "nice": false, "zero": false},
   "axis": {"title": "Species diversity", "titlePadding": 0, "values": [0,12.5,25,37.5,50,62.5,75,87.5,100,112.5,125],
    "labelExpr": "datum.value % 25 === 0 ? datum.label : ''",
    "gridWidth": {"condition": {"test": "datum.value % 25 === 0", "value": 1.1}, "value": 0.5},
    "tickOpacity": {"condition": {"test": "datum.value % 25 === 0", "value": 1}, "value": 0}}},
  "y2": {"field": "hi"},
  "color": {"field": "region", "type": "nominal", "scale": {"domain": ["East","West"], "range": ["#F8766D","#00BFC4"]}, "legend": {"orient": "none", "legendX": 138, "legendY": 394, "direction": "horizontal", "title": null, "symbolSize": 150, "symbolOpacity": 1, "labelOffset": 9, "columnPadding": 2, "labelFontSize": 14}}
 }},
{"data": {"name": "curves"}, "transform": [{"filter": "datum.panel === 'q2s'"}],
 "mark": {"type": "line", "strokeWidth": 2.7, "interpolate": "monotone"},
 "encoding": {
  "x": {"field": "x", "type": "quantitative"},
  "y": {"field": "y", "type": "quantitative"},
  "color": {"field": "region", "type": "nominal", "legend": {"orient": "none", "legendX": 138, "legendY": 394, "direction": "horizontal", "title": null, "symbolSize": 150, "symbolOpacity": 1, "labelOffset": 9, "columnPadding": 2, "labelFontSize": 14}},
  "strokeDash": {"field": "method", "type": "nominal", "scale": {"domain": ["interpolation","extrapolation"], "range": [[1,0],[6,4.5]]},
   "legend": {"orient": "none", "legendX": 85, "legendY": 357, "direction": "horizontal", "title": null, "symbolType": "stroke", "symbolStrokeColor": "#000000", "symbolStrokeWidth": 2.5, "symbolSize": 400, "labelOffset": 3, "columnPadding": 1, "labelFontSize": 14}}
 }},
{"data": {"name": "obs"}, "transform": [{"filter": "datum.panel === 'q2s'"}],
 "mark": {"type": "point", "filled": true, "size": 120, "opacity": 1},
 "encoding": {
  "x": {"field": "x", "type": "quantitative"},
  "y": {"field": "y", "type": "quantitative"},
  "color": {"field": "region", "type": "nominal", "legend": {"orient": "none", "legendX": 138, "legendY": 394, "direction": "horizontal", "title": null, "symbolSize": 150, "symbolOpacity": 1, "labelOffset": 9, "columnPadding": 2, "labelFontSize": 14}},
  "shape": {"field": "region", "type": "nominal", "scale": {"domain": ["East","West"], "range": ["circle","triangle-up"]}, "legend": {"orient": "none", "legendX": 138, "legendY": 394, "direction": "horizontal", "title": null, "symbolSize": 150, "symbolOpacity": 1, "labelOffset": 9, "columnPadding": 2, "labelFontSize": 14}}
 }},
{"data": {"name": "arrows"}, "transform": [{"filter": "datum.panel === 'q2s'"}],
 "mark": {"type": "rule", "strokeWidth": 2.2},
 "encoding": {
  "x": {"field": "x", "type": "quantitative"}, "y": {"field": "y", "type": "quantitative"},
  "x2": {"field": "x2"}, "y2": {"field": "y2"},
  "color": {"condition": {"test": "datum.region === 'East'", "value": "#F2431B"}, "value": "#1E9BE0"}
 }},
{"data": {"name": "arrows"}, "transform": [{"filter": "datum.panel === 'q2s'"}],
 "mark": {"type": "point", "shape": "triangle-right", "filled": true, "size": 110, "opacity": 1},
 "encoding": {
  "x": {"field": "x2", "type": "quantitative"}, "y": {"field": "y2", "type": "quantitative"},
  "angle": {"condition": {"test": "datum.region === 'East'", "value": 355}, "value": 0},
  "color": {"condition": {"test": "datum.region === 'East'", "value": "#F2431B"}, "value": "#1E9BE0"}
 }},
{"data": {"name": "arrows"}, "transform": [{"filter": "datum.panel === 'q2s'"}],
 "mark": {"type": "text", "align": "left", "baseline": "middle", "fontSize": 15.5},
 "encoding": {
  "x": {"field": "lx", "type": "quantitative"}, "y": {"field": "ly", "type": "quantitative"},
  "text": {"field": "label"},
  "color": {"condition": {"test": "datum.region === 'East'", "value": "#E8141C"}, "value": "#1F6FC1"}
 }},
{"data": {"name": "labels"}, "transform": [{"filter": "datum.panel === 'q2s'"}],
 "mark": {"type": "text", "align": "center", "baseline": "middle", "fontSize": 19},
 "encoding": {
  "x": {"field": "x", "type": "quantitative"}, "y": {"field": "y", "type": "quantitative"},
  "text": {"field": "region"},
  "color": {"condition": {"test": "datum.region === 'East'", "value": "#E8141C"}, "value": "#1F6FC1"}
 }}
]
},
{
"width": 378, "height": 305,
"layer": [
{"data": {"name": "curves"}, "transform": [{"filter": "datum.panel === 'q2c'"}],
 "mark": {"type": "area", "opacity": 0.2, "interpolate": "basis"},
 "encoding": {
  "x": {"field": "x", "type": "quantitative", "scale": {"domain": [-0.0354, 0.9664], "nice": false, "zero": false},
   "axis": {"title": "Sample coverage", "titlePadding": 0, "values": [0,0.125,0.25,0.375,0.5,0.625,0.75,0.875], "format": ".2f",
    "labelExpr": "(datum.value * 8) % 2 === 0 ? datum.label : ''",
    "gridWidth": {"condition": {"test": "(datum.value * 8) % 2 === 0", "value": 1.1}, "value": 0.5},
    "tickOpacity": {"condition": {"test": "(datum.value * 8) % 2 === 0", "value": 1}, "value": 0}}},
  "y": {"field": "lo", "type": "quantitative", "scale": {"domain": [-4.8, 125.7], "nice": false, "zero": false},
   "axis": {"title": "Species diversity", "titlePadding": 0, "values": [0,12.5,25,37.5,50,62.5,75,87.5,100,112.5,125],
    "labelExpr": "datum.value % 25 === 0 ? datum.label : ''",
    "gridWidth": {"condition": {"test": "datum.value % 25 === 0", "value": 1.1}, "value": 0.5},
    "tickOpacity": {"condition": {"test": "datum.value % 25 === 0", "value": 1}, "value": 0}}},
  "y2": {"field": "hi"},
  "color": {"field": "region", "type": "nominal", "scale": {"domain": ["East","West"], "range": ["#F8766D","#00BFC4"]}, "legend": {"orient": "none", "legendX": 138, "legendY": 394, "direction": "horizontal", "title": null, "symbolSize": 150, "symbolOpacity": 1, "labelOffset": 9, "columnPadding": 2, "labelFontSize": 14}}
 }},
{"data": {"name": "curves"}, "transform": [{"filter": "datum.panel === 'q2c'"}],
 "mark": {"type": "line", "strokeWidth": 2.7, "interpolate": "monotone"},
 "encoding": {
  "x": {"field": "x", "type": "quantitative"},
  "y": {"field": "y", "type": "quantitative"},
  "color": {"field": "region", "type": "nominal", "legend": {"orient": "none", "legendX": 138, "legendY": 394, "direction": "horizontal", "title": null, "symbolSize": 150, "symbolOpacity": 1, "labelOffset": 9, "columnPadding": 2, "labelFontSize": 14}},
  "strokeDash": {"field": "method", "type": "nominal", "scale": {"domain": ["interpolation","extrapolation"], "range": [[1,0],[6,4.5]]},
   "legend": {"orient": "none", "legendX": 85, "legendY": 357, "direction": "horizontal", "title": null, "symbolType": "stroke", "symbolStrokeColor": "#000000", "symbolStrokeWidth": 2.5, "symbolSize": 400, "labelOffset": 3, "columnPadding": 1, "labelFontSize": 14}}
 }},
{"data": {"name": "obs"}, "transform": [{"filter": "datum.panel === 'q2c'"}],
 "mark": {"type": "point", "filled": true, "size": 120, "opacity": 1},
 "encoding": {
  "x": {"field": "x", "type": "quantitative"},
  "y": {"field": "y", "type": "quantitative"},
  "color": {"field": "region", "type": "nominal", "legend": {"orient": "none", "legendX": 138, "legendY": 394, "direction": "horizontal", "title": null, "symbolSize": 150, "symbolOpacity": 1, "labelOffset": 9, "columnPadding": 2, "labelFontSize": 14}},
  "shape": {"field": "region", "type": "nominal", "scale": {"domain": ["East","West"], "range": ["circle","triangle-up"]}, "legend": {"orient": "none", "legendX": 138, "legendY": 394, "direction": "horizontal", "title": null, "symbolSize": 150, "symbolOpacity": 1, "labelOffset": 9, "columnPadding": 2, "labelFontSize": 14}}
 }},
{"data": {"name": "arrows"}, "transform": [{"filter": "datum.panel === 'q2c'"}],
 "mark": {"type": "rule", "strokeWidth": 2.2},
 "encoding": {
  "x": {"field": "x", "type": "quantitative"}, "y": {"field": "y", "type": "quantitative"},
  "x2": {"field": "x2"}, "y2": {"field": "y2"},
  "color": {"condition": {"test": "datum.region === 'East'", "value": "#F2431B"}, "value": "#1E9BE0"}
 }},
{"data": {"name": "arrows"}, "transform": [{"filter": "datum.panel === 'q2c'"}],
 "mark": {"type": "point", "shape": "triangle-right", "filled": true, "size": 110, "opacity": 1},
 "encoding": {
  "x": {"field": "x2", "type": "quantitative"}, "y": {"field": "y2", "type": "quantitative"},
  "angle": {"condition": {"test": "datum.region === 'East'", "value": 330}, "value": 354},
  "color": {"condition": {"test": "datum.region === 'East'", "value": "#F2431B"}, "value": "#1E9BE0"}
 }},
{"data": {"name": "arrows"}, "transform": [{"filter": "datum.panel === 'q2c'"}],
 "mark": {"type": "text", "align": "left", "baseline": "middle", "fontSize": 15.5},
 "encoding": {
  "x": {"field": "lx", "type": "quantitative"}, "y": {"field": "ly", "type": "quantitative"},
  "text": {"field": "label"},
  "color": {"condition": {"test": "datum.region === 'East'", "value": "#E8141C"}, "value": "#1F6FC1"}
 }},
{"data": {"name": "labels"}, "transform": [{"filter": "datum.panel === 'q2c'"}],
 "mark": {"type": "text", "align": "center", "baseline": "middle", "fontSize": 19},
 "encoding": {
  "x": {"field": "x", "type": "quantitative"}, "y": {"field": "y", "type": "quantitative"},
  "text": {"field": "region"},
  "color": {"condition": {"test": "datum.region === 'East'", "value": "#E8141C"}, "value": "#1F6FC1"}
 }}
]
}
]
}
],
"config": {
 "font": "Liberation Sans",
 "view": {"fill": "#EBEBEB", "stroke": null},
 "axis": {"grid": true, "gridColor": "#FFFFFF", "domain": false, "tickColor": "#333333", "tickSize": 3, "tickWidth": 1, "labelColor": "#4D4D4D", "labelFontSize": 14, "labelPadding": 2, "titleFontSize": 18, "titleFontWeight": "normal", "titleColor": "#000000", "labelFlush": false, "labelOverlap": false},
 "legend": {"labelFontSize": 14, "labelColor": "#000000", "padding": 0}
}
}
